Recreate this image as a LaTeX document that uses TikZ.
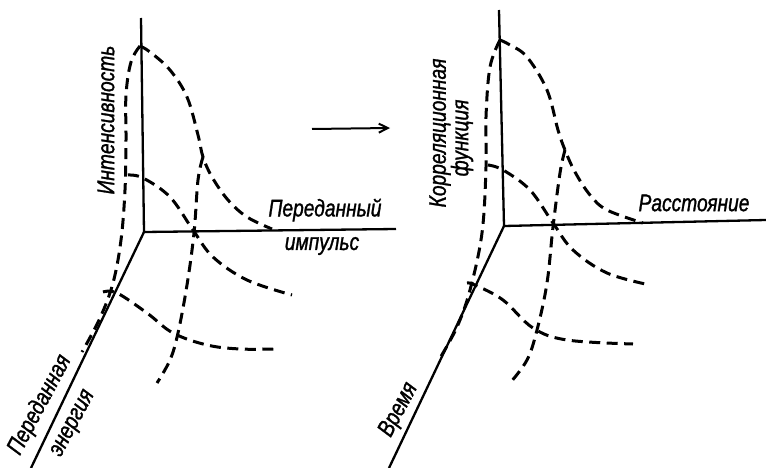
\documentclass[tikz,border=0pt]{standalone}
\usepackage{fontspec}
\newfontfamily\lab[FakeStretch=0.8,FakeBold=1.2]{Liberation Sans}
\usetikzlibrary{arrows.meta}
\begin{document}
\begin{tikzpicture}[x=1pt,y=-1pt,
  axis/.style={line width=2.3pt},
  curve/.style={line width=3pt,dash pattern=on 11pt off 6.5pt},
  lbl/.style={inner sep=0pt,font=\lab\itshape\fontsize{24}{26}\selectfont}]
\useasboundingbox (0,0) rectangle (766,468);
% ---------- left panel ----------
\coordinate (O1) at (144,232);
\coordinate (V1) at (141,18);
\coordinate (H1) at (396,229);
\coordinate (D1) at (31,468);
\draw[axis] (V1) -- (O1) -- (H1);
\draw[axis] (O1) -- (D1);
\draw[curve] plot[smooth,tension=0.6] coordinates {(140,46) (150,52) (170,70) (187,97) (198,135) (203,157) (212,177) (228,200) (247,217) (272,229)};
\draw[curve] plot[smooth,tension=0.6] coordinates {(140,46) (131,62) (126,95) (126,140) (125,190) (121,240) (113,283) (100,318) (82,352)};
\draw[curve] plot[smooth,tension=0.6] coordinates {(128,175) (143,178) (170,197) (193,230) (213,257) (247,280) (292,295)};
\draw[curve] plot[smooth,tension=0.6] coordinates {(103,292) (117,293) (147,313) (173,333) (207,345) (240,349) (275,349)};
\draw[curve] plot[smooth,tension=0.6] coordinates {(203,157) (198,180) (194,233) (187,285) (178,333) (170,360) (157,383)};
\node[lbl,rotate=90] (int) at (106,120) {Интенсивность};
\node[lbl] (pimp1) at (325,210) {Переданный};
\node[lbl] (pimp2) at (322,246) {импульс};
\node[lbl,rotate=62] (pen1) at (40,405) {Переданная};
\node[lbl,rotate=62] (pen2) at (74,424) {энергия};
% ---------- arrow ----------
\coordinate (A1) at (312,129);
\coordinate (A2) at (390,128);
\draw[line width=2pt,-{Straight Barb[length=9pt,width=9pt]}] (A1) -- (A2);
% ---------- right panel ----------
\coordinate (O2) at (504,226);
\coordinate (V2) at (499,10);
\coordinate (H2) at (766,220);
\coordinate (D2) at (389,468);
\draw[axis] (V2) -- (O2) -- (H2);
\draw[axis] (O2) -- (D2);
\draw[curve] plot[smooth,tension=0.6] coordinates {(500,40) (510,45) (527,57) (547,90) (558,130) (565,150) (575,172) (590,195) (607,210) (643,223)};
\draw[curve] plot[smooth,tension=0.6] coordinates {(500,40) (490,67) (486,117) (486,167) (482,233) (470,290) (457,327) (440,358)};
\draw[curve] plot[smooth,tension=0.6] coordinates {(488,165) (503,170) (530,190) (553,223) (573,250) (607,273) (650,285)};
\draw[curve] plot[smooth,tension=0.6] coordinates {(467,283) (475,285) (503,300) (533,328) (567,340) (633,344)};
\draw[curve] plot[smooth,tension=0.6] coordinates {(565,150) (560,173) (553,227) (547,283) (537,330) (527,360) (510,383)};
\node[lbl,rotate=90] (kor1) at (440,133) {Корреляционная};
\node[lbl,rotate=90] (kor2) at (462,138) {функция};
\node[lbl] (ras) at (694,203) {Расстояние};
\node[lbl,rotate=62] (vr) at (399,410) {Время};
\end{tikzpicture}
\end{document}
